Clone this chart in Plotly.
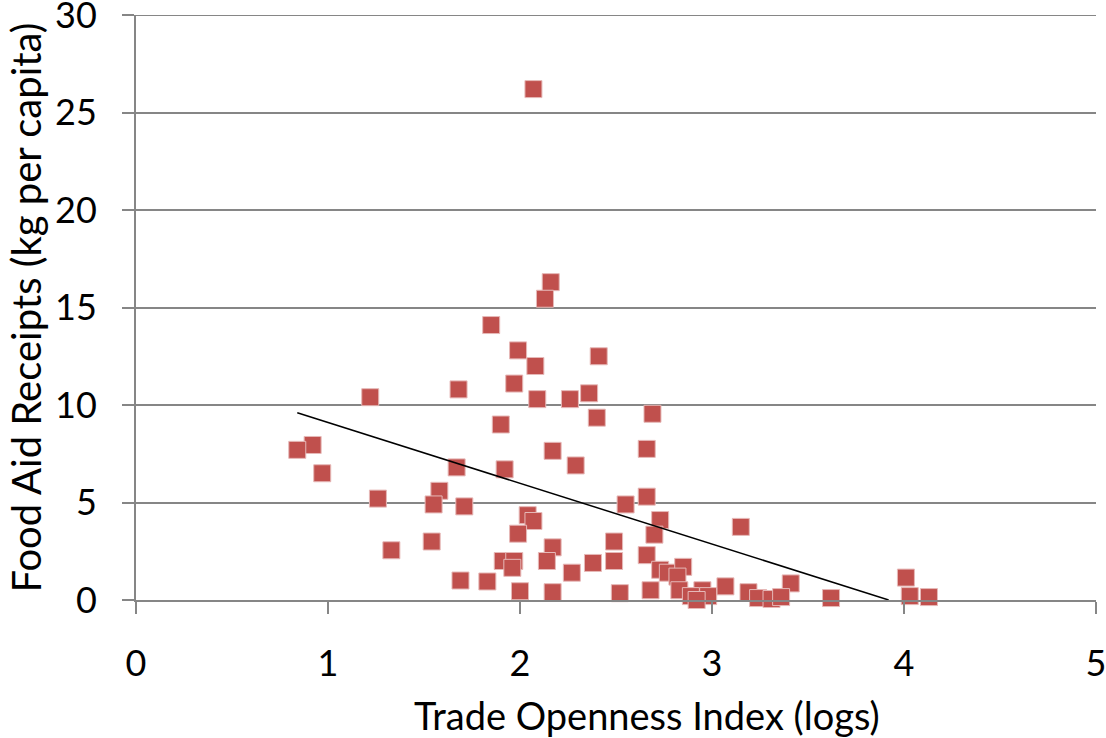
import plotly.graph_objects as go

trade_openness = [2.07, 2.16, 2.13, 1.85, 1.99, 2.41, 2.08, 1.97, 1.68, 2.36,
                  1.22, 2.09, 2.26, 2.69, 2.40, 1.90, 0.92, 0.84, 2.66, 2.17,
                  0.97, 1.67, 1.92, 2.29, 1.58, 2.66, 1.26, 2.55, 1.55, 1.71,
                  3.15, 2.04, 2.07, 2.73, 1.99, 2.70, 1.54, 2.49, 2.17, 1.33,
                  2.66, 2.38, 1.91, 1.97, 2.14, 2.49, 1.96, 2.73, 2.27, 2.77,
                  2.85, 1.69, 1.83, 4.01, 2.82, 3.41, 3.07, 2.95, 2.83, 2.68,
                  2.00, 2.17, 2.52, 3.19, 2.98, 2.89, 2.92, 3.24, 3.31, 3.36,
                  3.62, 4.03, 4.13]
food_aid = [26.2, 16.3, 15.45, 14.1, 12.8, 12.5, 12.0, 11.1, 10.8, 10.6,
            10.4, 10.3, 10.3, 9.55, 9.35, 9.0, 7.95, 7.7, 7.75, 7.65,
            6.5, 6.8, 6.7, 6.9, 5.6, 5.3, 5.2, 4.9, 4.9, 4.8,
            3.75, 4.35, 4.05, 4.1, 3.4, 3.35, 3.0, 3.0, 2.7, 2.55,
            2.3, 1.9, 2.0, 2.0, 2.0, 2.0, 1.65, 1.55, 1.4, 1.4,
            1.7, 1.0, 0.95, 1.15, 1.2, 0.85, 0.7, 0.5, 0.5, 0.5,
            0.45, 0.4, 0.35, 0.4, 0.2, 0.2, 0.0, 0.1, 0.05, 0.15,
            0.1, 0.2, 0.15]

trend_x = [0.84, 3.92]
trend_y = [9.6, 0.0]

x_ticks = [0, 1, 2, 3, 4, 5]
y_ticks = [0, 5, 10, 15, 20, 25, 30]

x_title = "Trade Openness Index (logs)"
y_title = "Food Aid Receipts (kg per capita)"

FONT = "Lato"
GRID = "#868686"

fig = go.Figure()
fig.add_trace(go.Scatter(
    x=trade_openness, y=food_aid, mode="markers",
    marker=dict(symbol="square", size=17, color="#C0504D",
                line=dict(color="#E6B9B8", width=1)),
    cliponaxis=False, showlegend=False))
fig.add_trace(go.Scatter(
    x=trend_x, y=trend_y, mode="lines",
    line=dict(color="black", width=1.5), showlegend=False))

# top gridline at the y-axis maximum
fig.add_shape(type="line", xref="paper", yref="y", x0=0, x1=1,
              y0=y_ticks[-1], y1=y_ticks[-1],
              line=dict(color=GRID, width=2), layer="below")

fig.update_layout(
    width=1106, height=738,
    margin=dict(l=136, r=10, t=15, b=138),
    paper_bgcolor="white", plot_bgcolor="white",
    font=dict(family=FONT, size=36, color="black"),
    xaxis=dict(range=[0, 5], tickvals=x_ticks, showgrid=False,
               automargin=False, ticklabeloverflow="allow",
               showline=True, linecolor=GRID, linewidth=2,
               ticks="outside", ticklen=12, tickcolor=GRID, tickwidth=2,
               ticklabelstandoff=19, zeroline=False),
    yaxis=dict(range=[0, 30], tickvals=y_ticks, showgrid=True,
               automargin=False, ticklabeloverflow="allow",
               gridcolor=GRID, gridwidth=2,
               showline=True, linecolor=GRID, linewidth=2,
               ticks="outside", ticklen=12, tickcolor=GRID, tickwidth=2,
               ticklabelstandoff=18, zeroline=False),
    annotations=[
        dict(text=x_title, xref="paper", yref="paper", x=0.532, y=-0.1966,
             xanchor="center", yanchor="middle", showarrow=False,
             font=dict(size=38)),
        dict(text=y_title, xref="paper", yref="paper", x=-0.1146, y=0.5,
             xanchor="center", yanchor="middle", showarrow=False,
             textangle=-90, font=dict(size=40)),
    ],
)

fig.write_html("out.html",
               config={"displayModeBar": False},
               post_script="document.body.style.margin='0';"
                           "document.body.style.overflow='hidden';")
